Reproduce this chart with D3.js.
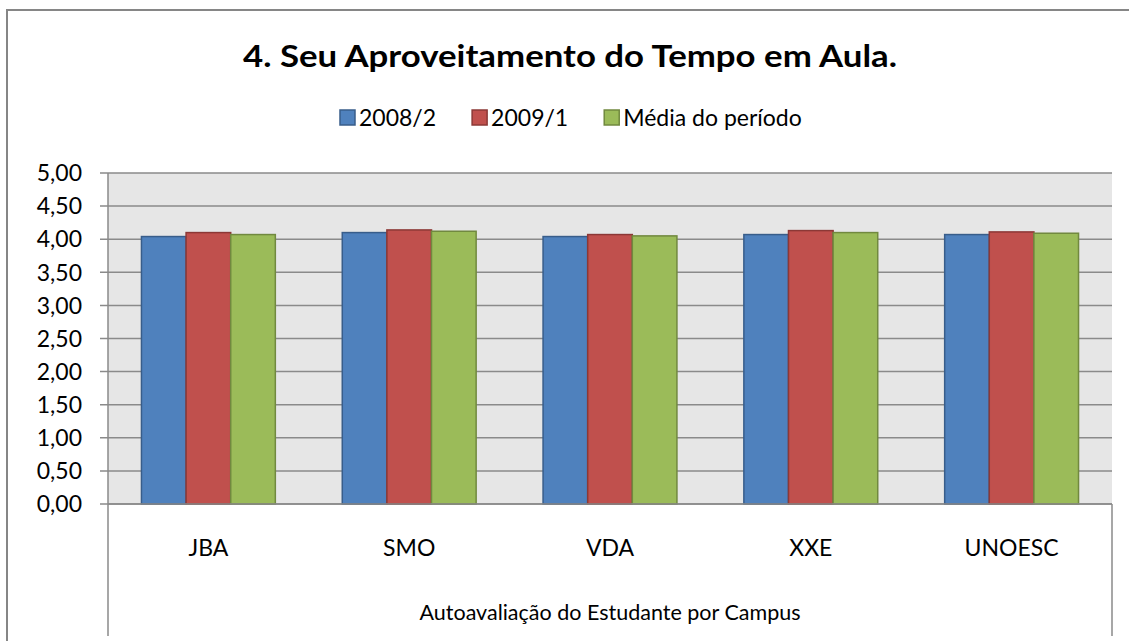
<!DOCTYPE html>
<html><head><meta charset="utf-8">
<script src="https://cdn.jsdelivr.net/npm/d3@7"></script>
<style>html,body{margin:0;padding:0;background:#fff;}svg{display:block;}</style>
</head><body>
<script>
const categories = ["JBA", "SMO", "VDA", "XXE", "UNOESC"];
const seriesNames = ["2008/2", "2009/1", "Média do período"];
const values2008_2 = [4.04, 4.10, 4.04, 4.07, 4.07];
const values2009_1 = [4.10, 4.14, 4.07, 4.13, 4.11];
const valuesMedia = [4.07, 4.12, 4.05, 4.10, 4.09];
const yTicks = [0, 0.5, 1, 1.5, 2, 2.5, 3, 3.5, 4, 4.5, 5];
const titleText = "4. Seu Aproveitamento do Tempo em Aula.";
const axisTitle = "Autoavaliação do Estudante por Campus";

const fills = ["#4f81bd", "#c0504d", "#9bbb59"];
const strokes = ["#385d8a", "#8c3836", "#71893f"];
const seriesValues = [values2008_2, values2009_1, valuesMedia];
const FONT = "Lato, 'Open Sans', sans-serif";

const W = 1129, H = 641;
const plot = {left: 108, right: 1112, top: 173, bottom: 504};

const svg = d3.select("body").append("svg").attr("width", W).attr("height", H);
svg.append("rect").attr("width", W).attr("height", H).attr("fill", "#fff");

// outer chart border (extends beyond the visible area on right/bottom)
svg.append("rect").attr("x", 7).attr("y", 10).attr("width", 1140).attr("height", 700)
  .attr("fill", "none").attr("stroke", "#868686").attr("stroke-width", 2);

const y = d3.scaleLinear().domain([0, 5]).range([plot.bottom, plot.top]);
const x0 = d3.scaleBand().domain(categories).range([plot.left, plot.right]).padding(0);
const x1 = d3.scaleBand().domain(seriesNames).range([0, x0.bandwidth()]).paddingInner(0).paddingOuter(0.75);

// plot background
svg.append("rect").attr("x", plot.left).attr("y", plot.top)
  .attr("width", plot.right - plot.left).attr("height", plot.bottom - plot.top)
  .attr("fill", "#e6e6e6");

// gridlines
svg.append("g").selectAll("line").data(yTicks).join("line")
  .attr("x1", plot.left - 8).attr("x2", plot.right)
  .attr("y1", d => y(d)).attr("y2", d => y(d))
  .attr("stroke", "#8a8a8a").attr("stroke-width", 1.5);

// y axis labels
const fmt = v => d3.format(".2f")(v).replace(".", ",");
svg.append("g").selectAll("text").data(yTicks).join("text")
  .attr("x", 82).attr("y", d => y(d)).attr("dy", "0.36em")
  .attr("text-anchor", "end").attr("font-family", FONT).attr("font-size", 23)
  .attr("fill", "#000").text(fmt);

// bars
const groups = svg.append("g").selectAll("g").data(categories).join("g")
  .attr("transform", d => `translate(${x0(d)},0)`);
groups.selectAll("rect").data((c, ci) => seriesNames.map((s, si) => ({s, si, v: seriesValues[si][ci]})))
  .join("rect")
  .attr("x", d => x1(d.s)).attr("width", x1.bandwidth())
  .attr("y", d => y(d.v)).attr("height", d => y(0) - y(d.v))
  .attr("fill", d => fills[d.si]).attr("stroke", d => strokes[d.si]).attr("stroke-width", 1.5);

// axes lines
svg.append("line").attr("x1", plot.left).attr("x2", plot.left).attr("y1", plot.top).attr("y2", 636)
  .attr("stroke", "#8a8a8a").attr("stroke-width", 1.5);
svg.append("line").attr("x1", plot.right).attr("x2", plot.right).attr("y1", plot.bottom).attr("y2", 636)
  .attr("stroke", "#8a8a8a").attr("stroke-width", 1.5);
svg.append("line").attr("x1", plot.left).attr("x2", plot.right).attr("y1", plot.bottom).attr("y2", plot.bottom)
  .attr("stroke", "#8a8a8a").attr("stroke-width", 1.5);

// category labels
svg.append("g").selectAll("text").data(categories).join("text")
  .attr("x", d => x0(d) + x0.bandwidth() / 2).attr("y", 556)
  .attr("text-anchor", "middle").attr("font-family", FONT).attr("font-size", 23)
  .attr("fill", "#000").text(d => d);

// axis title (second level)
svg.append("text").attr("x", (plot.left + plot.right) / 2).attr("y", 620)
  .attr("text-anchor", "middle").attr("font-family", FONT).attr("font-size", 21.5)
  .attr("fill", "#000").text(axisTitle);

// title
svg.append("text").attr("x", 570).attr("y", 67).attr("text-anchor", "middle")
  .attr("font-family", FONT).attr("font-weight", "bold").attr("font-size", 31)
  .attr("textLength", 654).attr("lengthAdjust", "spacingAndGlyphs")
  .attr("fill", "#000").text(titleText);

// legend
const leg = svg.append("g");
let tx = 359;
seriesNames.forEach((s, i) => {
  leg.append("rect").attr("x", tx - 19).attr("y", 110).attr("width", 15).attr("height", 15)
    .attr("fill", fills[i]).attr("stroke", strokes[i]).attr("stroke-width", 1.5);
  const t = leg.append("text").attr("x", tx).attr("y", 126)
    .attr("font-family", FONT).attr("font-size", 23).attr("fill", "#000").text(s);
  tx += t.node().getComputedTextLength() + 55;
});
</script>
</body></html>
